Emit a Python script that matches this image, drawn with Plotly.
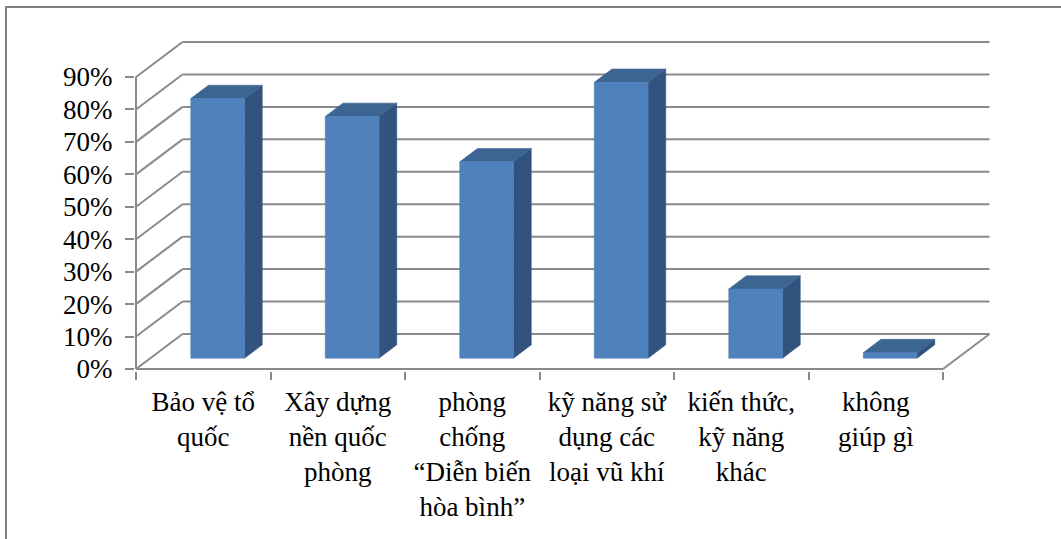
import plotly.graph_objects as go

# ---- data ----
categories = [
    "Bảo vệ tổ<br>quốc",
    "Xây dựng<br>nền quốc<br>phòng",
    "phòng<br>chống<br>“Diễn biến<br>hòa bình”",
    "kỹ năng sử<br>dụng các<br>loại vũ khí",
    "kiến thức,<br>kỹ năng<br>khác",
    "không<br>giúp gì",
]
values = [80, 74.5, 60.5, 85, 21.3, 1.7]          # percent
y_ticks = [0, 10, 20, 30, 40, 50, 60, 70, 80, 90]
y_tick_text = [f"{t}%" for t in y_ticks]

# ---- style / projection constants ----
PX_CAT = 134.5           # pixels per category
PX_PCT = 292 / 90        # pixels per percent
DX = 46.5 / PX_CAT       # depth offset in category units
DY = 35 / PX_PCT         # depth offset in percent units
T0, T1 = 0.31, 0.69      # bar front/back depth fraction
W0, W1 = 0.30, 0.70      # bar left/right in band
GRID = "#8a8a8a"
FRONT, TOP, SIDE = "#4F81BD", "#3C6592", "#31537D"
FONT = "'Liberation Serif', 'Times New Roman', 'DejaVu Serif', serif"

n = len(categories)
L, R, T, B = 135, 66, 38, 168
W, H = 1061, 539
PW = W - L - R
PH = H - T - B
ZERO_X, ZERO_Y = 136, 369      # pixel position of the front-left floor corner
x_min = -(ZERO_X - L) / PX_CAT
x_max = x_min + PW / PX_CAT
y_min = -((H - B) - ZERO_Y) / PX_PCT
y_max = y_min + PH / PX_PCT

fig = go.Figure()

# faces
fx, fy, sx, sy, tx, ty = [], [], [], [], [], []
for i, v in enumerate(values):
    xl0 = i + W0 + T0 * DX
    xr0 = i + W1 + T0 * DX
    xl1 = i + W0 + T1 * DX
    xr1 = i + W1 + T1 * DX
    yb0 = T0 * DY
    yb1 = T1 * DY
    fx += [xl0, xr0, xr0, xl0, xl0, None]
    fy += [yb0, yb0, yb0 + v, yb0 + v, yb0, None]
    sx += [xr0, xr1, xr1, xr0, xr0, None]
    sy += [yb0, yb1, yb1 + v, yb0 + v, yb0, None]
    tx += [xl0, xr0, xr1, xl1, xl0, None]
    ty += [yb0 + v, yb0 + v, yb1 + v, yb1 + v, yb0 + v, None]

for xs, ys, c in [(sx, sy, SIDE), (tx, ty, TOP), (fx, fy, FRONT)]:
    fig.add_trace(go.Scatter(x=xs, y=ys, mode="lines", fill="toself",
                             fillcolor=c, line=dict(color=c, width=0.6),
                             hoverinfo="skip", showlegend=False))

shapes = []
ln = dict(color=GRID, width=2)
for t in y_ticks:
    shapes.append(dict(type="line", xref="x", yref="y", x0=0, y0=t, x1=DX, y1=t + DY,
                       line=ln, layer="below"))
    shapes.append(dict(type="line", xref="x", yref="y", x0=DX, y0=t + DY, x1=n + DX, y1=t + DY,
                       line=ln, layer="below"))
shapes.append(dict(type="line", xref="x", yref="y", x0=0, y0=0, x1=n, y1=0, line=ln, layer="below"))
shapes.append(dict(type="line", xref="x", yref="y", x0=n, y0=0, x1=n + DX, y1=DY, line=ln, layer="below"))
shapes.append(dict(type="line", xref="x", yref="y", x0=0, y0=0, x1=0, y1=y_ticks[-1], line=ln, layer="below"))
shapes.append(dict(type="rect", xref="paper", yref="paper",
                   x0=(6 - L) / PW, y0=-0.8,
                   x1=1.3, y1=(H - B - 7) / PH,
                   line=dict(color="#7f7f7f", width=2), layer="below"))

fig.update_layout(
    width=W, height=H,
    margin=dict(l=L, r=R, t=T, b=B, autoexpand=False),
    paper_bgcolor="white", plot_bgcolor="rgba(0,0,0,0)",
    shapes=shapes,
    showlegend=False,
    xaxis=dict(range=[x_min, x_max], tickvals=[i + 0.5 for i in range(n)], ticktext=categories,
               showgrid=False, zeroline=False, showline=False, ticks="",
               tickfont=dict(family=FONT, size=27, color="black"), ticklabelstandoff=12,
               ticklabeloverflow="allow", automargin=False, fixedrange=True),
    xaxis2=dict(range=[x_min, x_max], overlaying="x", side="bottom", anchor="y",
                tickvals=list(range(n + 1)), ticks="outside", ticklen=8, tickwidth=2,
                tickcolor=GRID, showticklabels=False, showgrid=False, zeroline=False,
                showline=False, automargin=False),
    yaxis=dict(range=[y_min, y_max], tickvals=y_ticks, ticktext=y_tick_text,
               ticks="outside", ticklen=9, tickwidth=2, tickcolor=GRID,
               showgrid=False, zeroline=False, showline=False,
               tickfont=dict(family=FONT, size=27, color="black"), ticklabelstandoff=7,
               ticklabeloverflow="allow", automargin=False, fixedrange=True),
)
fig.add_trace(go.Scatter(x=[None], y=[None], xaxis="x2", showlegend=False))

fig.write_html("out.html")
